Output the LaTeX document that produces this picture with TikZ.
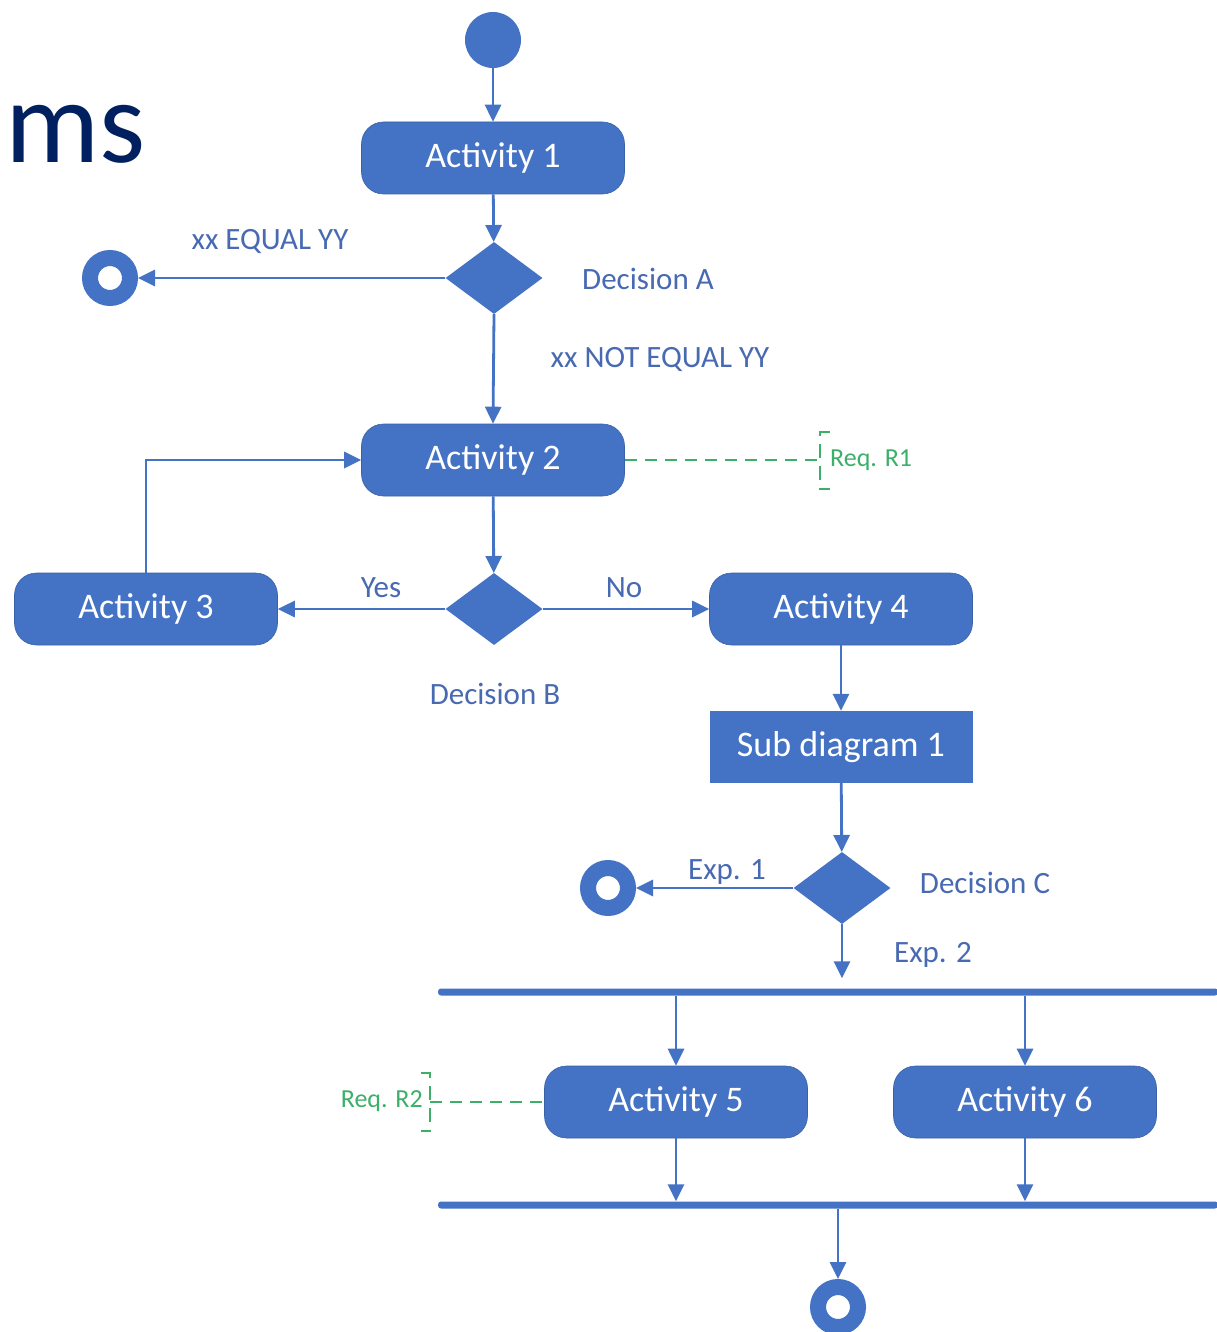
\documentclass[tikz,border=0pt]{standalone}
\usepackage{fontspec}
\setmainfont{Carlito}
\usetikzlibrary{arrows.meta,shapes.geometric}
\definecolor{ublue}{RGB}{68,114,196}
\definecolor{lblue}{RGB}{72,106,178}
\definecolor{rgreen}{RGB}{60,175,105}
\definecolor{navy}{RGB}{0,32,96}
\begin{document}
\begin{tikzpicture}[x=1pt,y=-1pt,
  act/.style={rectangle,rounded corners=22pt,fill=ublue,draw=ublue!85!black,line width=0.6pt,
    minimum width=263pt,minimum height=72pt,inner sep=0pt,text=white,font=\fontsize{36}{42}\selectfont},
  subbox/.style={rectangle,fill=ublue,minimum width=263pt,minimum height=72pt,inner sep=0pt,
    text=white,font=\fontsize{36}{42}\selectfont},
  dec/.style={diamond,fill=ublue,minimum width=97pt,minimum height=72pt,inner sep=0pt},
  startnode/.style={circle,fill=ublue,minimum size=56pt,inner sep=0pt},
  endnode/.style={circle,draw=ublue,fill=white,line width=16pt,minimum size=40pt,inner sep=0pt},
  bar/.style={rectangle,fill=ublue,minimum height=7pt,inner sep=0pt,rounded corners=3pt},
  arr/.style={draw=ublue,line width=2.8pt,-{Triangle[length=17pt,width=16pt]}},
  lab/.style={text=lblue,inner sep=0pt,font=\fontsize{31}{36}\selectfont},
  reqlab/.style={text=rgreen,inner sep=0pt,font=\fontsize{26}{30}\selectfont},
  reqline/.style={draw=rgreen,line width=2pt,dash pattern=on 12pt off 8pt},
  brk/.style={draw=rgreen,line width=2pt,dash pattern=on 14pt off 8pt}
]
\useasboundingbox (0,0) rectangle (1216,1332);
\fill[white] (0,0) rectangle (1216,1332);

% title fragment
\node[anchor=base west,inner sep=0pt,text=navy,font=\fontsize{118}{124}\selectfont] (title) at (5,163) {ms};

% nodes
\node[startnode] (start) at (493,40) {};
\node[act] (a1) at (493,158) {Activity 1};
\node[dec] (dA) at (494,278) {};
\node[endnode] (eA) at (110,278) {};
\node[act] (a2) at (493,460) {Activity 2};
\node[dec] (dB) at (494,609) {};
\node[act] (a3) at (146,609) {Activity 3};
\node[act] (a4) at (841,609) {Activity 4};
\node[subbox] (s1) at (841,747) {Sub diagram 1};
\node[dec] (dC) at (842,888) {};
\node[endnode] (eC) at (608,888) {};
\node[bar,minimum width=780pt] (fork) at (828,992) {};
\node[act] (a5) at (676,1102) {Activity 5};
\node[act] (a6) at (1025,1102) {Activity 6};
\node[bar,minimum width=780pt] (join) at (828,1205) {};
\node[endnode] (eE) at (838,1307) {};

% labels
\node[lab] (lxe) at (270,241) {xx EQUAL YY};
\node[lab] (ldA) at (648,279) {Decision A};
\node[lab] (lxn) at (660,359) {xx NOT EQUAL YY};
\node[lab] (lyes) at (381,588) {Yes};
\node[lab] (lno) at (624,588) {No};
\node[lab] (ldB) at (495,694) {Decision B};
\node[lab] (le1) at (727,872) {Exp. 1};
\node[lab] (ldC) at (985,883) {Decision C};
\node[lab] (le2) at (933,955) {Exp. 2};

% connectors
\draw[arr] (start) -- (a1);
\draw[arr] (a1) -- (dA);
\draw[arr] (dA.west) -- (eA.east);
\draw[arr] (dA.south) -- (a2.north);
\draw[arr] (a2) -- (dB);
\draw[arr] (dB.west) -- (a3.east);
\draw[arr] (dB.east) -- (a4.west);
\draw[arr] (a3.north) |- (a2.west);
\draw[arr] (a4) -- (s1);
\draw[arr] (s1) -- (dC);
\draw[arr] (dC.west) -- (eC.east);
\draw[arr,shorten >=10pt] (dC.south) -- (dC.south |- fork.north);
\draw[arr] (a5.north |- fork.south) -- (a5.north);
\draw[arr] (a6.north |- fork.south) -- (a6.north);
\draw[arr] (a5.south) -- (a5.south |- join.north);
\draw[arr] (a6.south) -- (a6.south |- join.north);
\draw[arr] (eE.north |- join.south) -- (eE.north);

% requirement R1
\node[reqlab,anchor=west] (r1) at (830,460) {Req. R1};
\coordinate (r1m) at (820,460);
\coordinate (r1t) at (820,432);
\coordinate (r1b) at (820,489);
\draw[reqline] (a2.east) -- (r1m);
\draw[brk] ([xshift=10pt]r1t) -- (r1t) -- (r1b) -- ([xshift=10pt]r1b);

% requirement R2
\node[reqlab,anchor=east] (r2) at (423,1101) {Req. R2};
\coordinate (r2m) at (430,1102);
\coordinate (r2t) at (430,1073);
\coordinate (r2b) at (430,1131);
\draw[reqline] (r2m) -- (a5.west);
\draw[brk] ([xshift=-9pt]r2t) -- (r2t) -- (r2b) -- ([xshift=-9pt]r2b);
\end{tikzpicture}
\end{document}
